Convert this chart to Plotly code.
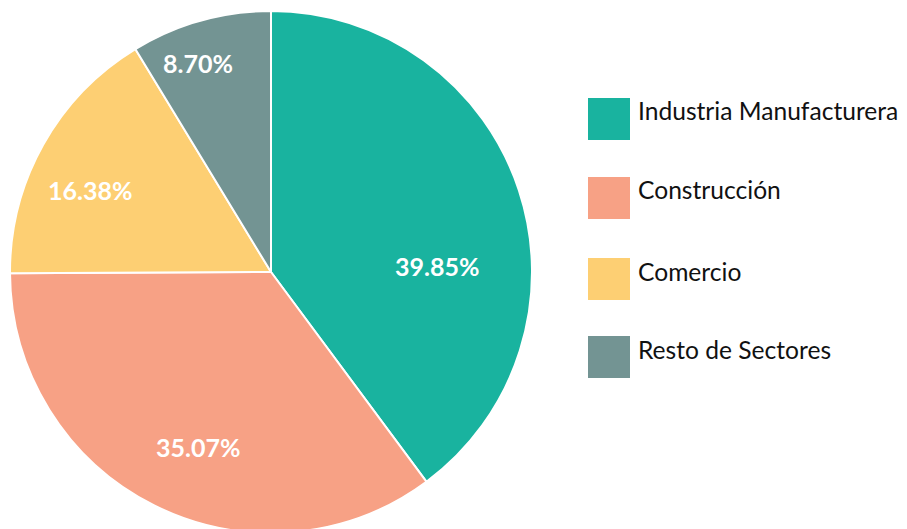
import math
import plotly.graph_objects as go

categories = ["Industria Manufacturera", "Construcción", "Comercio", "Resto de Sectores"]
values = [39.85, 35.07, 16.38, 8.70]
labels_text = ["39.85%", "35.07%", "16.38%", "8.70%"]
colors = ["#19b39f", "#f7a185", "#fdcf73", "#739493"]

W, H = 899, 529
OFF = 8  # page body margin compensation

# pie geometry in figure pixels
CX, CY, R = 271 - OFF, 272 - OFF, 261
# label placement style: fraction along each slice's arc, and fraction of radius
label_afrac = [0.614, 0.468, 0.417, 0.385]
label_rfrac = [0.638, 0.726, 0.763, 0.848]

fig = go.Figure()
fig.add_trace(go.Pie(
    labels=categories,
    values=values,
    textinfo="none",
    sort=False,
    direction="clockwise",
    rotation=0,
    marker=dict(colors=colors, line=dict(color="white", width=2)),
    showlegend=False,
    domain=dict(x=[(CX - R) / W, (CX + R) / W], y=[1 - (CY + R) / H, 1 - (CY - R) / H]),
))

# slice labels placed within each slice (angles computed from the values)
total = sum(values)
cum = 0.0
for v, t, af, rf in zip(values, labels_text, label_afrac, label_rfrac):
    ang = (cum + v * af) / total * 2 * math.pi
    cum += v
    px = CX + rf * R * math.sin(ang)
    py = CY - rf * R * math.cos(ang)
    fig.add_annotation(xref="paper", yref="paper", x=px / W, y=1 - py / H,
                       text=t, showarrow=False, xanchor="center", yanchor="middle",
                       font=dict(family="Lato", size=25, color="white", weight="bold"))

# custom legend: large square swatches with labels
sq_top = [98, 177, 258, 336]
for cat, col, top in zip(categories, colors, sq_top):
    t = top - OFF
    fig.add_shape(type="rect", xref="paper", yref="paper",
                  x0=(588 - OFF) / W, x1=(630 - OFF) / W, y0=1 - (t + 42) / H, y1=1 - t / H,
                  fillcolor=col, line=dict(width=0))
    fig.add_annotation(xref="paper", yref="paper", x=(636 - OFF) / W, y=1 - (t + 13) / H,
                       text=cat, showarrow=False, xanchor="left", yanchor="middle",
                       font=dict(family="Lato", size=24.6, color="#111111"))

fig.update_layout(
    width=W, height=H,
    margin=dict(l=0, r=0, t=0, b=0),
    paper_bgcolor="white",
    plot_bgcolor="white",
)

fig.write_html("out.html")
